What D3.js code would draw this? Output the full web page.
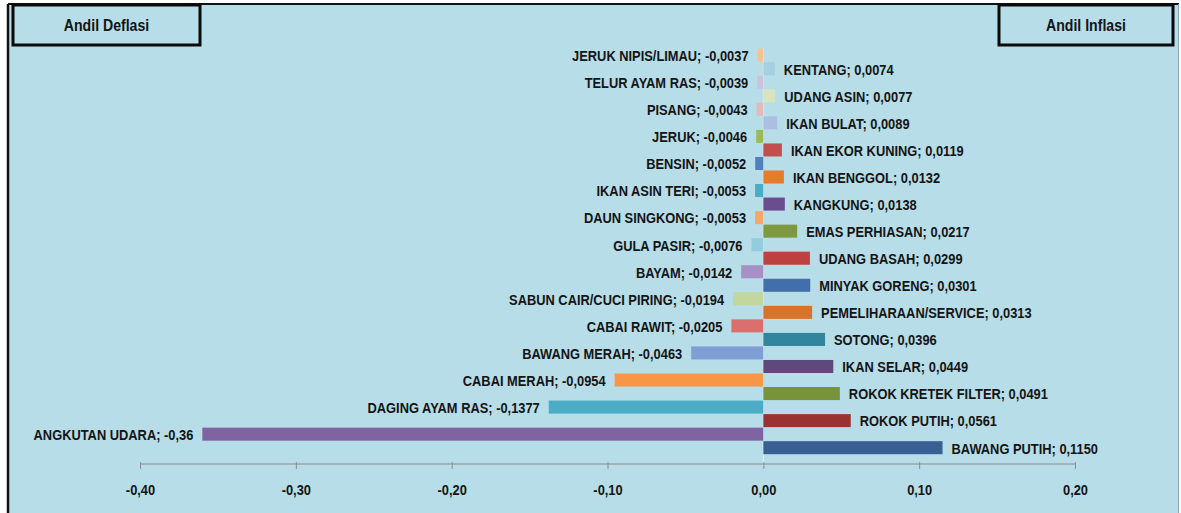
<!DOCTYPE html>
<html>
<head>
<meta charset="utf-8">
<script src="https://cdn.jsdelivr.net/npm/d3@7"></script>
<style>
  html, body { margin: 0; padding: 0; background: #ffffff; }
  svg { display: block; }
  text { font-family: "Liberation Sans", Arial, sans-serif; font-weight: bold; fill: #141414; }
</style>
</head>
<body>
<svg id="chart" width="1181" height="513"></svg>
<script>
// ---- Data (top to bottom) ----
const deflasiNames = ["JERUK NIPIS/LIMAU", "TELUR AYAM RAS", "PISANG", "JERUK", "BENSIN", "IKAN ASIN TERI",
  "DAUN SINGKONG", "GULA PASIR", "BAYAM", "SABUN CAIR/CUCI PIRING", "CABAI RAWIT", "BAWANG MERAH",
  "CABAI MERAH", "DAGING AYAM RAS", "ANGKUTAN UDARA"];
const deflasiValues = [-0.0037, -0.0039, -0.0043, -0.0046, -0.0052, -0.0053, -0.0053, -0.0076, -0.0142,
  -0.0194, -0.0205, -0.0463, -0.0954, -0.1377, -0.36];
const deflasiDecimals = [4, 4, 4, 4, 4, 4, 4, 4, 4, 4, 4, 4, 4, 4, 2];
const deflasiColors = ["#fac090", "#ccc1da", "#e6b9b8", "#9bbb59", "#4f81bd", "#4bacc6", "#f9a564", "#93cddd",
  "#a790c4", "#c3d69b", "#d9706e", "#7f9fd4", "#f79646", "#4bacc6", "#8064a2"];

const inflasiNames = ["KENTANG", "UDANG ASIN", "IKAN BULAT", "IKAN EKOR KUNING", "IKAN BENGGOL", "KANGKUNG",
  "EMAS PERHIASAN", "UDANG BASAH", "MINYAK GORENG", "PEMELIHARAAN/SERVICE", "SOTONG", "IKAN SELAR",
  "ROKOK KRETEK FILTER", "ROKOK PUTIH", "BAWANG PUTIH"];
const inflasiValues = [0.0074, 0.0077, 0.0089, 0.0119, 0.0132, 0.0138, 0.0217, 0.0299, 0.0301, 0.0313,
  0.0396, 0.0449, 0.0491, 0.0561, 0.1150];
const inflasiDecimals = [4, 4, 4, 4, 4, 4, 4, 4, 4, 4, 4, 4, 4, 4, 4];
const inflasiColors = ["#a6cfe0", "#d7e4bd", "#abc0e0", "#c0504d", "#e57c2a", "#6a4d8f", "#7e9a3e", "#be4141",
  "#426fab", "#d8732a", "#31859c", "#5f497a", "#77933c", "#9b3232", "#3a5f94"];

const xTicks = [-0.4, -0.3, -0.2, -0.1, 0, 0.1, 0.2];
const headerLeft = "Andil Deflasi";
const headerRight = "Andil Inflasi";

// ---- Setup ----
const svg = d3.select("#chart");
const W = 1181, H = 513;
const loc = d3.formatLocale({decimal: ",", thousands: ".", grouping: [3], currency: ["", ""], minus: "-"});
const fmt = (v, d) => loc.format("." + d + "f")(v);
const K = 0.83;   // horizontal condensing to imitate a narrow bold face

// frame / background
svg.append("rect").attr("x", 8).attr("y", 4).attr("width", W - 10).attr("height", H - 4)
  .attr("fill", "#b7dde8");
svg.append("line").attr("x1", 8).attr("x2", W - 2).attr("y1", 4).attr("y2", 4)
  .attr("stroke", "#111").attr("stroke-width", 2);
svg.append("line").attr("x1", 8).attr("x2", 8).attr("y1", 4).attr("y2", H)
  .attr("stroke", "#111").attr("stroke-width", 2.5);
svg.append("line").attr("x1", W - 2.5).attr("x2", W - 2.5).attr("y1", 4).attr("y2", H)
  .attr("stroke", "#8aa6b0").attr("stroke-width", 1);

// scales
const x = d3.scaleLinear().domain([-0.4, 0.2]).range([140, 1075]);
const idx = d3.range(deflasiNames.length);
const y = d3.scaleBand().domain(idx).range([48.7, 454.7]).paddingInner(0).paddingOuter(0);
const sub = d3.scaleBand().domain(["def", "inf"]).range([0, y.bandwidth()]).padding(0);

// zero line
svg.append("line").attr("x1", x(0)).attr("x2", x(0)).attr("y1", y.range()[0]).attr("y2", 466)
  .attr("stroke", "#e8eef0").attr("stroke-width", 1);

const bh = sub.bandwidth();

// deflasi bars
svg.append("g").selectAll("rect").data(idx).join("rect")
  .attr("x", i => x(deflasiValues[i]))
  .attr("y", i => y(i) + sub("def"))
  .attr("width", i => x(0) - x(deflasiValues[i]))
  .attr("height", bh - 0.5)
  .attr("fill", i => deflasiColors[i]);

// inflasi bars
svg.append("g").selectAll("rect").data(idx).join("rect")
  .attr("x", x(0))
  .attr("y", i => y(i) + sub("inf"))
  .attr("width", i => x(inflasiValues[i]) - x(0))
  .attr("height", bh - 0.5)
  .attr("fill", i => inflasiColors[i]);

// labels
const fs = 15.5;
svg.append("g").selectAll("text").data(idx).join("text")
  .attr("transform", i => `translate(${x(deflasiValues[i]) - 9},${y(i) + sub("def") + bh / 2}) scale(${K},1)`)
  .attr("dy", "0.36em")
  .attr("text-anchor", "end")
  .style("font-size", fs + "px")
  .text(i => deflasiNames[i] + "; " + fmt(deflasiValues[i], deflasiDecimals[i]));

svg.append("g").selectAll("text").data(idx).join("text")
  .attr("transform", i => `translate(${x(inflasiValues[i]) + 9},${y(i) + sub("inf") + bh / 2}) scale(${K},1)`)
  .attr("dy", "0.36em")
  .attr("text-anchor", "start")
  .style("font-size", fs + "px")
  .text(i => inflasiNames[i] + "; " + fmt(inflasiValues[i], inflasiDecimals[i]));

// x axis
const axis = d3.axisBottom(x).tickValues(xTicks).tickSize(6).tickSizeOuter(0)
  .tickFormat(v => fmt(v, 2));
const gx = svg.append("g").attr("transform", "translate(0,464)").call(axis);
gx.select(".domain").attr("stroke", "#8c8c8c").attr("stroke-width", 1.2).attr("d", `M${x(-0.4)},0H${x(0.2)}`);
gx.selectAll(".tick line").attr("stroke", "#8c8c8c").attr("y1", -2).attr("y2", 5);
gx.selectAll(".tick text").attr("y", null).attr("dy", "0.36em")
  .attr("transform", `translate(0,25) scale(${K},1)`)
  .style("font-size", "15.5px")
  .style("font-family", '"Liberation Sans", Arial, sans-serif')
  .style("font-weight", "bold").attr("fill", "#141414");

// header boxes
function header(x0, w, label) {
  svg.append("rect").attr("x", x0).attr("y", 5).attr("width", w).attr("height", 40)
    .attr("fill", "#b7dde8").attr("stroke", "#0a0a0a").attr("stroke-width", 3);
  svg.append("text").attr("transform", `translate(${x0 + w / 2},25) scale(${K},1)`).attr("dy", "0.36em")
    .attr("text-anchor", "middle").style("font-size", "17px").text(label);
}
header(13, 187, headerLeft);
header(999, 174, headerRight);
</script>
</body>
</html>
